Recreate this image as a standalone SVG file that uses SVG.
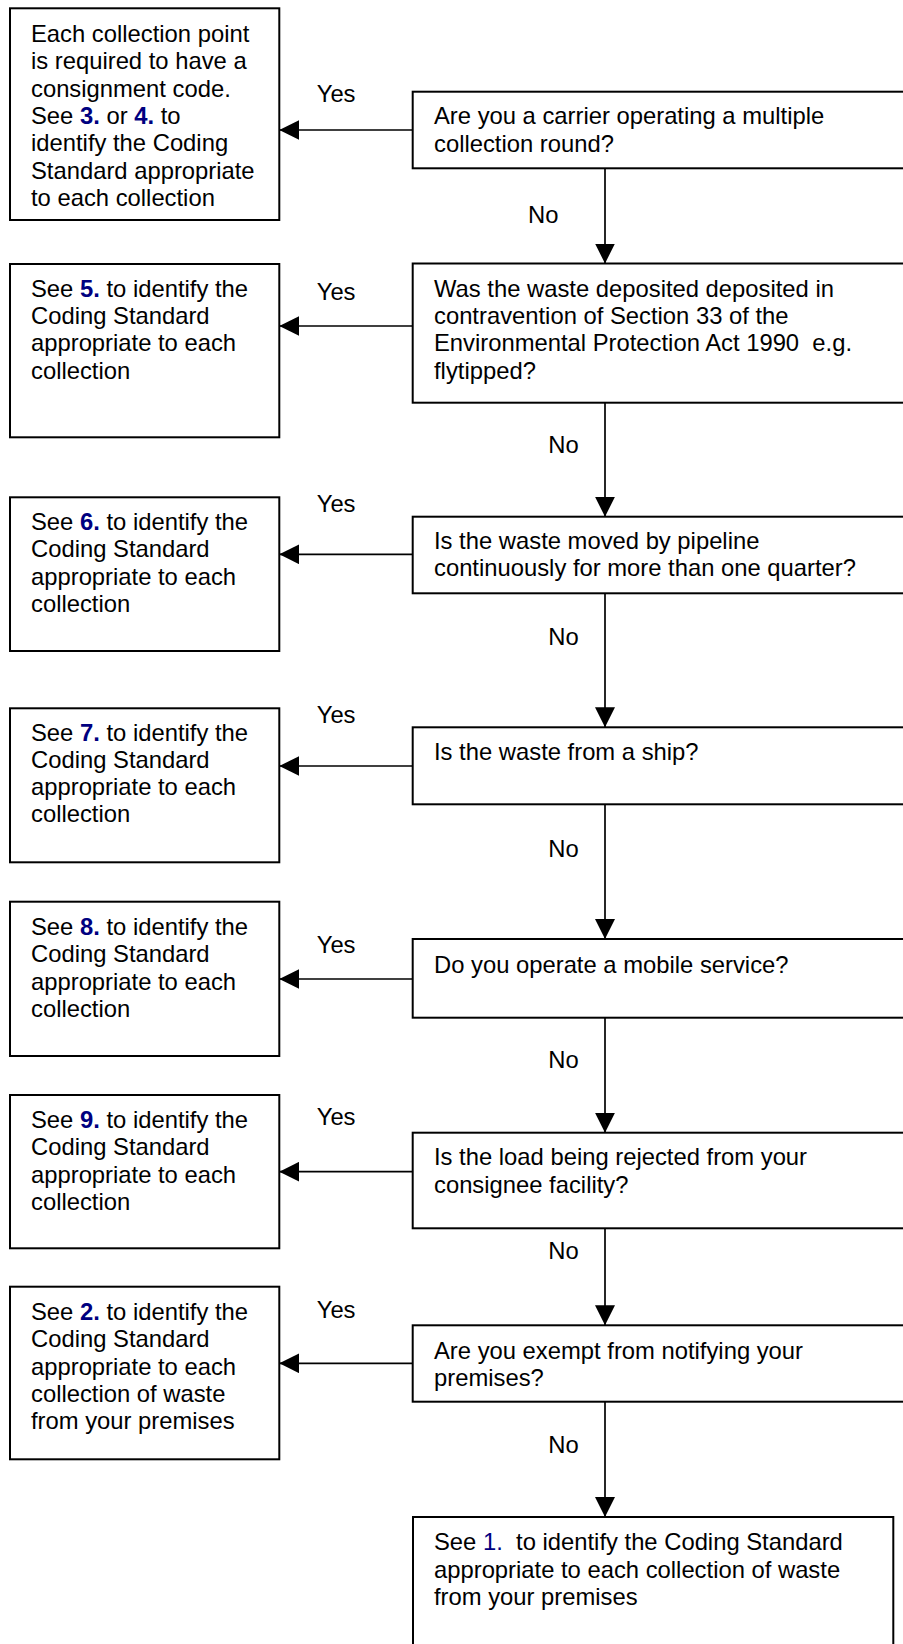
<svg xmlns="http://www.w3.org/2000/svg" width="903" height="1644" viewBox="0 0 903 1644">
<style>
  .box { fill: #ffffff; stroke: #000000; stroke-width: 2; }
  .t { font-family: "Liberation Sans", Arial, sans-serif; font-size: 23.8px; fill: #000000; }
  .n { fill: #000080; font-weight: bold; }
  .n1 { fill: #000080; }
  .line { stroke: #000000; stroke-width: 1.7; fill: none; marker-end: url(#arrow); }
</style>
<defs>
  <marker id="arrow" markerUnits="userSpaceOnUse" markerWidth="20" markerHeight="20" refX="20" refY="10" orient="auto" viewBox="0 0 20 20">
    <path d="M0,0 L20,10 L0,20 Z" fill="#000000"/>
  </marker>
</defs>
<rect width="903" height="1644" fill="#ffffff"/>

<g id="connectors">
  <line class="line" x1="605" y1="168.3" x2="605" y2="263.5"/>
  <line class="line" x1="605" y1="402.7" x2="605" y2="516.7"/>
  <line class="line" x1="605" y1="593.3" x2="605" y2="727.3"/>
  <line class="line" x1="605" y1="804.3" x2="605" y2="939"/>
  <line class="line" x1="605" y1="1017.7" x2="605" y2="1132.7"/>
  <line class="line" x1="605" y1="1228.3" x2="605" y2="1325.3"/>
  <line class="line" x1="605" y1="1401.7" x2="605" y2="1517"/>
  <line class="line" x1="412.7" y1="130" x2="279.3" y2="130"/>
  <line class="line" x1="412.7" y1="326" x2="279.3" y2="326"/>
  <line class="line" x1="412.7" y1="554.3" x2="279.3" y2="554.3"/>
  <line class="line" x1="412.7" y1="766" x2="279.3" y2="766"/>
  <line class="line" x1="412.7" y1="979" x2="279.3" y2="979"/>
  <line class="line" x1="412.7" y1="1171.7" x2="279.3" y2="1171.7"/>
  <line class="line" x1="412.7" y1="1363.3" x2="279.3" y2="1363.3"/>
  <g class="t">
    <text x="316.7" y="101.7">Yes</text>
    <text x="316.7" y="300">Yes</text>
    <text x="316.7" y="511.7">Yes</text>
    <text x="316.7" y="723.3">Yes</text>
    <text x="316.7" y="953.3">Yes</text>
    <text x="316.7" y="1125">Yes</text>
    <text x="316.7" y="1318">Yes</text>
    <text x="528" y="223">No</text>
    <text x="548.3" y="453.3">No</text>
    <text x="548.3" y="645">No</text>
    <text x="548.3" y="856.7">No</text>
    <text x="548.3" y="1068.3">No</text>
    <text x="548.3" y="1259">No</text>
    <text x="548.3" y="1452.7">No</text>
  </g>
</g>

<g id="q1">
  <rect class="box" x="412.7" y="91.7" width="520" height="76.6"/>
  <text class="t" x="434" y="124.3">Are you a carrier operating a multiple</text>
  <text class="t" x="434" y="151.6">collection round?</text>
</g>
<g id="a1">
  <rect class="box" x="10" y="8.3" width="269.3" height="211.7"/>
  <text class="t" x="31" y="42">Each collection point</text>
  <text class="t" x="31" y="69.3">is required to have a</text>
  <text class="t" x="31" y="96.6">consignment code.</text>
  <text class="t" x="31" y="123.9">See <tspan class="n">3.</tspan> or <tspan class="n">4.</tspan> to</text>
  <text class="t" x="31" y="151.2">identify the Coding</text>
  <text class="t" x="31" y="178.5">Standard appropriate</text>
  <text class="t" x="31" y="205.8">to each collection</text>
</g>

<g id="q2">
  <rect class="box" x="412.7" y="263.5" width="520" height="139.2"/>
  <text class="t" x="434" y="296.7">Was the waste deposited deposited in</text>
  <text class="t" x="434" y="324">contravention of Section 33 of the</text>
  <text class="t" x="434" y="351.3">Environmental Protection Act 1990 &#160;e.g.</text>
  <text class="t" x="434" y="378.6">flytipped?</text>
</g>
<g id="a2">
  <rect class="box" x="10" y="264" width="269.3" height="173.3"/>
  <text class="t" x="31" y="296.7">See <tspan class="n">5.</tspan> to identify the</text>
  <text class="t" x="31" y="324">Coding Standard</text>
  <text class="t" x="31" y="351.3">appropriate to each</text>
  <text class="t" x="31" y="378.6">collection</text>
</g>

<g id="q3">
  <rect class="box" x="412.7" y="516.7" width="520" height="76.6"/>
  <text class="t" x="434" y="549">Is the waste moved by pipeline</text>
  <text class="t" x="434" y="576.3">continuously for more than one quarter?</text>
</g>
<g id="a3">
  <rect class="box" x="10" y="497.3" width="269.3" height="153.7"/>
  <text class="t" x="31" y="530">See <tspan class="n">6.</tspan> to identify the</text>
  <text class="t" x="31" y="557.3">Coding Standard</text>
  <text class="t" x="31" y="584.6">appropriate to each</text>
  <text class="t" x="31" y="611.9">collection</text>
</g>

<g id="q4">
  <rect class="box" x="412.7" y="727.3" width="520" height="77"/>
  <text class="t" x="434" y="760">Is the waste from a ship?</text>
</g>
<g id="a4">
  <rect class="box" x="10" y="708.3" width="269.3" height="154"/>
  <text class="t" x="31" y="740.5">See <tspan class="n">7.</tspan> to identify the</text>
  <text class="t" x="31" y="767.8">Coding Standard</text>
  <text class="t" x="31" y="795.1">appropriate to each</text>
  <text class="t" x="31" y="822.4">collection</text>
</g>

<g id="q5">
  <rect class="box" x="412.7" y="939" width="520" height="78.7"/>
  <text class="t" x="434" y="972.5">Do you operate a mobile service?</text>
</g>
<g id="a5">
  <rect class="box" x="10" y="901.7" width="269.3" height="154.3"/>
  <text class="t" x="31" y="935">See <tspan class="n">8.</tspan> to identify the</text>
  <text class="t" x="31" y="962.3">Coding Standard</text>
  <text class="t" x="31" y="989.6">appropriate to each</text>
  <text class="t" x="31" y="1016.9">collection</text>
</g>

<g id="q6">
  <rect class="box" x="412.7" y="1132.7" width="520" height="95.6"/>
  <text class="t" x="434" y="1165.3">Is the load being rejected from your</text>
  <text class="t" x="434" y="1192.6">consignee facility?</text>
</g>
<g id="a6">
  <rect class="box" x="10" y="1095" width="269.3" height="153.3"/>
  <text class="t" x="31" y="1128">See <tspan class="n">9.</tspan> to identify the</text>
  <text class="t" x="31" y="1155.3">Coding Standard</text>
  <text class="t" x="31" y="1182.6">appropriate to each</text>
  <text class="t" x="31" y="1209.9">collection</text>
</g>

<g id="q7">
  <rect class="box" x="412.7" y="1325.3" width="520" height="76.4"/>
  <text class="t" x="434" y="1358.5">Are you exempt from notifying your</text>
  <text class="t" x="434" y="1385.8">premises?</text>
</g>
<g id="a7">
  <rect class="box" x="10" y="1286.7" width="269.3" height="172.6"/>
  <text class="t" x="31" y="1320">See <tspan class="n">2.</tspan> to identify the</text>
  <text class="t" x="31" y="1347.3">Coding Standard</text>
  <text class="t" x="31" y="1374.6">appropriate to each</text>
  <text class="t" x="31" y="1401.9">collection of waste</text>
  <text class="t" x="31" y="1429.2">from your premises</text>
</g>

<g id="final">
  <rect class="box" x="413" y="1517" width="480.3" height="200"/>
  <text class="t" x="434" y="1550">See <tspan class="n1">1.</tspan> &#160;to identify the Coding Standard</text>
  <text class="t" x="434" y="1577.5">appropriate to each collection of waste</text>
  <text class="t" x="434" y="1605">from your premises</text>
</g>
</svg>
